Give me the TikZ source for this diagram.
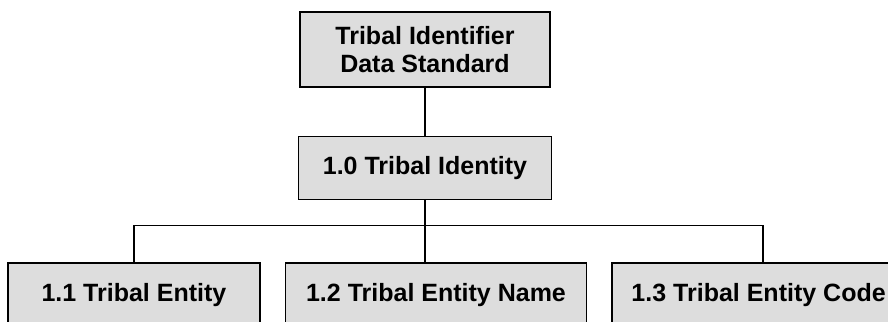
\documentclass[tikz,border=0pt]{standalone}
\usepackage{fontspec}
\setmainfont{Liberation Sans}
\usetikzlibrary{positioning}
\definecolor{boxgray}{HTML}{DDDDDD}

\begin{document}
\begin{tikzpicture}[x=1pt,y=1pt,
		box/.style={draw,line width=1.6pt,fill=boxgray,align=center,inner sep=0pt,minimum height=63pt,
			font=\fontsize{25}{27.5}\selectfont\bfseries},
		link/.style={line width=1.6pt}]
	\useasboundingbox (0,0) rectangle (888,321);
	\clip (0,0) rectangle (888,321);
	% top of the tree
	\node[box,minimum width=250pt,minimum height=75pt] (std) at (425,271.5) {Tribal Identifier\\Data Standard};
	\node[box,minimum width=253pt,below=48pt of std] (ident) {1.0 Tribal Identity};
	\coordinate[below=25pt of ident] (bus);
	% bottom row
	\node[box,minimum width=301pt,below=62pt of ident,xshift=11pt] (entname) {1.2 Tribal Entity Name};
	\node[box,minimum width=252pt,left=24pt of entname] (ent) {1.1 Tribal Entity};
	\node[box,minimum width=293pt,right=24pt of entname] (entcode) {1.3 Tribal Entity Code};
	% connectors
	\draw[link] (std) -- (ident);
	\draw[link] (ident) -- (bus);
	\draw[link] (ent.north) |- (bus) -| ([xshift=4.5pt]entcode.north);
	\draw[link] (bus) -- (entname.north -| bus);
\end{tikzpicture}
\end{document}
